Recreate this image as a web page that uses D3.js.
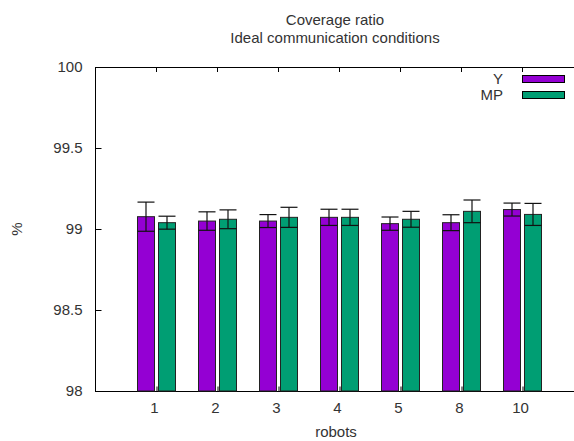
<!DOCTYPE html>
<html><head><meta charset="utf-8">
<script src="https://cdn.jsdelivr.net/npm/d3@7"></script>
<style>body{margin:0;background:#fff}svg{display:block}text{font-family:"Liberation Sans",Arial,sans-serif;fill:#333}</style>
</head><body>
<script>
const categories = ["1","2","3","4","5","8","10"];
const seriesNames = ["Y","MP"];
const valuesY  = [99.076, 99.049, 99.049, 99.072, 99.033, 99.039, 99.12];
const errorsY  = [0.09, 0.057, 0.04, 0.05, 0.041, 0.049, 0.04];
const valuesMP = [99.039, 99.06, 99.072, 99.072, 99.06, 99.109, 99.09];
const errorsMP = [0.04, 0.058, 0.062, 0.05, 0.049, 0.07, 0.068];
const yTicks = [98, 98.5, 99, 99.5, 100];
const colors = ["#9400d3", "#009e73"];

(function () {
const W = 574, H = 441;
const svg = d3.select("body").append("svg").attr("width", W).attr("height", H);
const pLeft = 95, pTop = 67, pBottom = 391;
const x = d3.scaleLinear().domain([-1, 7]).range([pLeft, pLeft + 8*61]);
const y = d3.scaleLinear().domain([98, 100]).range([pBottom, pTop]);
const barW = 17;
const FONT = '"Liberation Sans",Arial,sans-serif';
const FS = 15;

// frame
svg.append("rect").attr("x", pLeft + 0.5).attr("y", pTop + 0.5)
  .attr("width", x(7) - pLeft).attr("height", pBottom - pTop)
  .attr("fill", "none").attr("stroke", "#000").attr("stroke-width", 1);

// y axis
const yAxis = d3.axisLeft(y).tickValues(yTicks).tickSize(-6).tickPadding(13)
  .tickFormat(d => d3.format("")(d));
const gy = svg.append("g").attr("transform", `translate(${pLeft+0.5},0)`).call(yAxis);
gy.select(".domain").remove();
gy.selectAll("line").attr("stroke", "#000");
gy.selectAll("text").attr("font-size", FS).style("fill", "#333").attr("font-family", FONT);
// right mirror ticks
yTicks.forEach(t => svg.append("line").attr("x1", x(7)).attr("x2", x(7) - 6)
  .attr("y1", Math.round(y(t)) + 0.5).attr("y2", Math.round(y(t)) + 0.5).attr("stroke", "#000"));

// x axis
const xAxis = d3.axisBottom(x).tickValues(d3.range(categories.length)).tickSize(-5).tickPadding(11)
  .tickFormat(i => categories[i]);
const gx = svg.append("g").attr("transform", `translate(0,${pBottom+0.5})`).call(xAxis);
gx.select(".domain").remove();
gx.selectAll("line").attr("stroke", "#000").attr("transform", "translate(0.5,0)");
gx.selectAll("text").attr("font-size", FS).style("fill", "#333").attr("font-family", FONT).attr("dx", -2);
// top mirror ticks
d3.range(categories.length).forEach(i => svg.append("line")
  .attr("x1", Math.round(x(i)) + 0.5).attr("x2", Math.round(x(i)) + 0.5)
  .attr("y1", pTop).attr("y2", pTop + 5).attr("stroke", "#000"));

// bars
const series = [
  {name: seriesNames[0], vals: valuesY, errs: errorsY, off: -19, color: colors[0]},
  {name: seriesNames[1], vals: valuesMP, errs: errorsMP, off: 2, color: colors[1]}
];
series.forEach(s => {
  const g = svg.append("g");
  g.selectAll("rect").data(s.vals).join("rect")
    .attr("x", (d, i) => Math.round(x(i)) + s.off + 0.5)
    .attr("y", d => y(d))
    .attr("width", barW)
    .attr("height", d => pBottom - y(d))
    .attr("fill", s.color).attr("stroke", "#222").attr("stroke-width", 1);
  const eg = svg.append("g").attr("stroke", "#111").attr("stroke-width", 1.2);
  s.vals.forEach((v, i) => {
    const cx = Math.round(x(i)) + s.off + 0.5 + barW / 2;
    const e = s.errs[i];
    eg.append("line").attr("x1", cx).attr("x2", cx).attr("y1", y(v + e)).attr("y2", y(v - e));
    eg.append("line").attr("x1", cx - barW/2).attr("x2", cx + barW/2).attr("y1", y(v + e)).attr("y2", y(v + e));
    eg.append("line").attr("x1", cx - barW/2).attr("x2", cx + barW/2).attr("y1", y(v - e)).attr("y2", y(v - e));
  });
});

// legend
series.forEach((s, k) => {
  const cy = 79 + k * 16;
  svg.append("text").attr("x", 503).attr("y", cy + 5).attr("text-anchor", "end")
    .attr("font-size", FS).text(s.name);
  svg.append("rect").attr("x", 522.5).attr("y", cy - 3.5).attr("width", 42).attr("height", 7)
    .attr("fill", s.color).attr("stroke", "#000");
});

// titles
svg.append("text").attr("x", 335).attr("y", 25).attr("text-anchor", "middle").attr("font-size", FS).text("Coverage ratio");
svg.append("text").attr("x", 335).attr("y", 43).attr("text-anchor", "middle").attr("font-size", FS).text("Ideal communication conditions");
svg.append("text").attr("x", 336).attr("y", 437).attr("text-anchor", "middle").attr("font-size", FS).text("robots");
svg.append("text").attr("transform", "translate(22,229) rotate(-90)").attr("text-anchor", "middle").attr("font-size", FS).text("%");
})();
</script>
</body></html>
